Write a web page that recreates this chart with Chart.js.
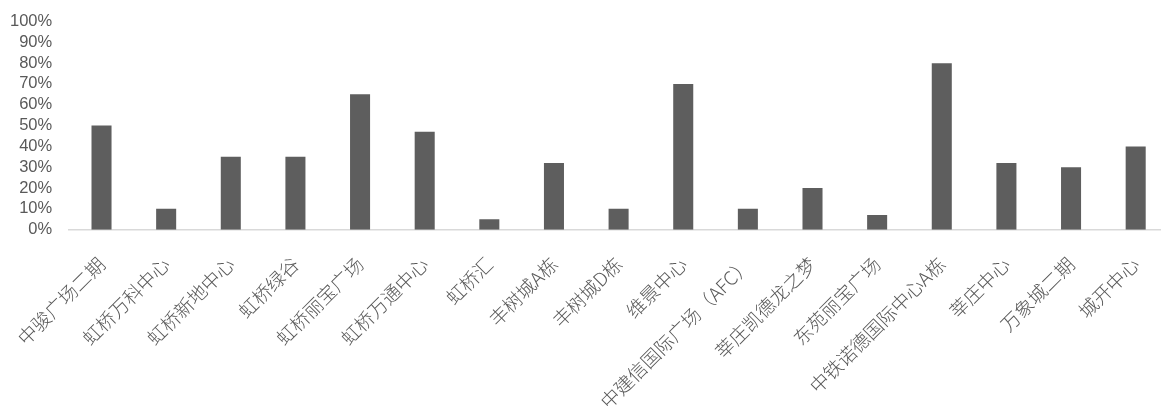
<!DOCTYPE html>
<html>
<head>
<meta charset="utf-8">
<script src="https://cdn.jsdelivr.net/npm/chart.js@4/dist/chart.umd.min.js"></script>
<style>
    html, body { margin: 0; padding: 0; background: #ffffff; overflow: hidden; }
    #wrap { position: absolute; left: 0; top: 0; width: 1168px; height: 436px; }
</style>
</head>
<body>
<div id="wrap"><canvas id="occupancy"></canvas></div>
<script>
var buildings = ['中骏广场二期', '虹桥万科中心', '虹桥新地中心', '虹桥绿谷', '虹桥丽宝广场', '虹桥万通中心',
    '虹桥汇', '丰树城A栋', '丰树城D栋', '维景中心', '中建信国际广场（AFC）', '莘庄凯德龙之梦',
    '东苑丽宝广场', '中铁诺德国际中心A栋', '莘庄中心', '万象城二期', '城开中心'];
var rates = [50, 10, 35, 35, 65, 47, 5, 32, 10, 70, 10, 20, 7, 80, 32, 30, 40];
var yTicks = [0, 10, 20, 30, 40, 50, 60, 70, 80, 90, 100];

var barChart = new Chart(document.getElementById('occupancy'), {
    type: 'bar',
    data: {
        labels: buildings,
        datasets: [{
            label: '比例',
            data: rates,
            backgroundColor: '#5e5e5e',
            borderWidth: 0,
            barPercentage: 0.62,
            categoryPercentage: 0.5
        }]
    },
    options: {
        responsive: true,
        maintainAspectRatio: false,
        animation: false,
        // the y axis reserves its tick padding twice, pull it back a little
        layout: {padding: {left: -7, top: 21.5, right: 0, bottom: 0}},
        plugins: {
            legend: {display: false},
            tooltip: {enabled: false}
        },
        scales: {
            x: {
                grid: {display: false, drawTicks: false},
                border: {display: true, color: '#d9d9d9', width: 1.5},
                // long rotated labels should not push the plot to the right
                afterFit: function (scale) {
                    scale.paddingLeft = 0;
                    scale.paddingRight = 0;
                },
                ticks: {
                    autoSkip: false,
                    maxRotation: 45,
                    minRotation: 45,
                    padding: 23,
                    color: '#595959',
                    font: {family: '"Noto Sans CJK SC", sans-serif', size: 19, weight: 300}
                }
            },
            y: {
                min: 0,
                max: 100,
                afterBuildTicks: function (scale) {
                    scale.ticks = yTicks.map(function (v) { return {value: v}; });
                },
                // top of the plot is set by layout padding instead
                afterFit: function (scale) {
                    scale.paddingTop = 0;
                    scale.paddingBottom = 0;
                },
                grid: {display: false, drawTicks: false},
                border: {display: false},
                ticks: {
                    autoSkip: false,
                    padding: 17,
                    color: '#595959',
                    font: {family: '"Liberation Sans", Arial, sans-serif', size: 16.5, lineHeight: 1},
                    callback: function (value) { return value + '%'; }
                }
            }
        }
    }
});
</script>
</body>
</html>
